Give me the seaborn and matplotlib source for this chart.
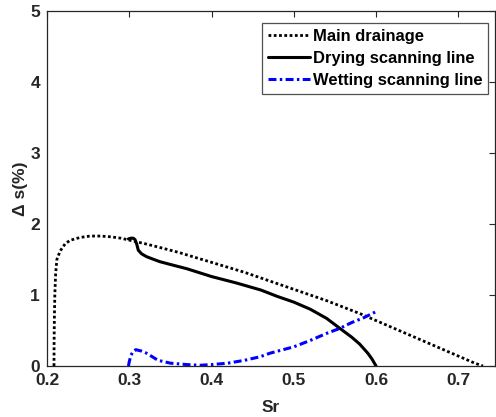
import matplotlib
matplotlib.use("Agg")
import matplotlib.pyplot as plt
import seaborn as sns
import pandas as pd

# Main drainage (dotted)
main_sr = [0.2085, 0.2086, 0.2090, 0.2095, 0.2105, 0.2120, 0.2160, 0.2220, 0.2280, 0.240,
           0.252, 0.265, 0.277, 0.290, 0.301, 0.320, 0.337, 0.360, 0.380, 0.400, 0.420,
           0.440, 0.460, 0.480, 0.500, 0.520, 0.540, 0.560, 0.580, 0.600, 0.620, 0.640,
           0.660, 0.680, 0.700, 0.720, 0.730]
main_ds = [0.00, 0.30, 0.70, 1.00, 1.30, 1.50, 1.62, 1.72, 1.77, 1.81,
           1.83, 1.83, 1.82, 1.80, 1.77, 1.72, 1.67, 1.60, 1.53, 1.46, 1.39,
           1.32, 1.24, 1.16, 1.08, 1.00, 0.92, 0.83, 0.74, 0.64, 0.54, 0.44,
           0.34, 0.24, 0.14, 0.04, 0.00]

# Drying scanning line (solid)
dry_sr = [0.299, 0.302, 0.305, 0.307, 0.309, 0.311, 0.315, 0.321, 0.330, 0.337, 0.350,
          0.370, 0.400, 0.430, 0.460, 0.480, 0.500, 0.520, 0.540, 0.556, 0.570, 0.580,
          0.590, 0.595, 0.600]
dry_ds = [1.79, 1.80, 1.80, 1.78, 1.72, 1.63, 1.58, 1.54, 1.50, 1.47, 1.43,
          1.37, 1.26, 1.17, 1.07, 0.98, 0.90, 0.80, 0.67, 0.53, 0.41, 0.31,
          0.18, 0.10, 0.00]

# Wetting scanning line (dash-dot)
wet_sr = [0.299, 0.300, 0.302, 0.305, 0.308, 0.315, 0.321, 0.335, 0.350, 0.370, 0.386,
          0.400, 0.420, 0.440, 0.459, 0.471, 0.500, 0.520, 0.540, 0.556, 0.570, 0.585, 0.599]
wet_ds = [0.00, 0.06, 0.15, 0.21, 0.23, 0.21, 0.18, 0.08, 0.04, 0.02, 0.01,
          0.02, 0.04, 0.08, 0.13, 0.18, 0.27, 0.36, 0.46, 0.53, 0.61, 0.68, 0.76]

labels = ["Main drainage", "Drying scanning line", "Wetting scanning line"]
xticks = [0.2, 0.3, 0.4, 0.5, 0.6, 0.7]
yticks = [0, 1, 2, 3, 4, 5]

sns.set_style("white")
plt.rcParams["font.family"] = ["Liberation Sans", "DejaVu Sans"]
plt.rcParams["font.weight"] = "bold"
dark = "#262626"

fig = plt.figure(figsize=(4.96, 4.17), dpi=100)
ax = fig.add_axes([47/496, 1-366/417, (495-47)/496, (366-11)/417])

df_main = pd.DataFrame({"Sr": main_sr, "ds": main_ds})
df_dry = pd.DataFrame({"Sr": dry_sr, "ds": dry_ds})
df_wet = pd.DataFrame({"Sr": wet_sr, "ds": wet_ds})

sns.lineplot(data=df_main, x="Sr", y="ds", ax=ax, sort=False, estimator=None,
             color="black", lw=2.0, linestyle=(0, (1, 0.9)), label=labels[0])
sns.lineplot(data=df_dry, x="Sr", y="ds", ax=ax, sort=False, estimator=None,
             color="black", lw=2.2, linestyle="-", label=labels[1])
sns.lineplot(data=df_wet, x="Sr", y="ds", ax=ax, sort=False, estimator=None,
             color="#0000ff", lw=2.2, linestyle=(0, (2.6, 1.1, 0.8, 1.1)), label=labels[2])

ax.set_xlim(0.2, 0.2 + (495-47)/822.6)
ax.set_ylim(0, 5)
ax.set_xticks(xticks)
ax.set_xticklabels([f"{t:g}" for t in xticks])
ax.set_yticks(yticks)
ax.set_yticklabels([str(t) for t in yticks])
ax.tick_params(direction="in", length=4, width=0.8, colors=dark, labelsize=12.5,
               top=True, right=True, pad=5)
for lab in ax.get_xticklabels() + ax.get_yticklabels():
    lab.set_fontweight("bold")
for sp in ax.spines.values():
    sp.set_color(dark)
    sp.set_linewidth(0.9)

ax.set_xlabel("Sr", fontsize=12.5, fontweight="bold", color=dark, labelpad=9)
ax.set_ylabel("Δ s(%)", fontsize=12.5, fontweight="bold", color=dark, labelpad=2)

leg = ax.legend(loc="upper right", bbox_to_anchor=(488.3/496, 1-23.3/417),
                bbox_transform=fig.transFigure, borderaxespad=0,
                fontsize=11.9, frameon=True, fancybox=False, handlelength=2.5,
                handletextpad=0.2, labelspacing=0.42, borderpad=0.35)
leg.get_frame().set_edgecolor(dark)
leg.get_frame().set_linewidth(0.9)
for t in leg.get_texts():
    t.set_fontweight("bold")
    t.set_color("black")

fig.savefig("out.png", dpi=100)
